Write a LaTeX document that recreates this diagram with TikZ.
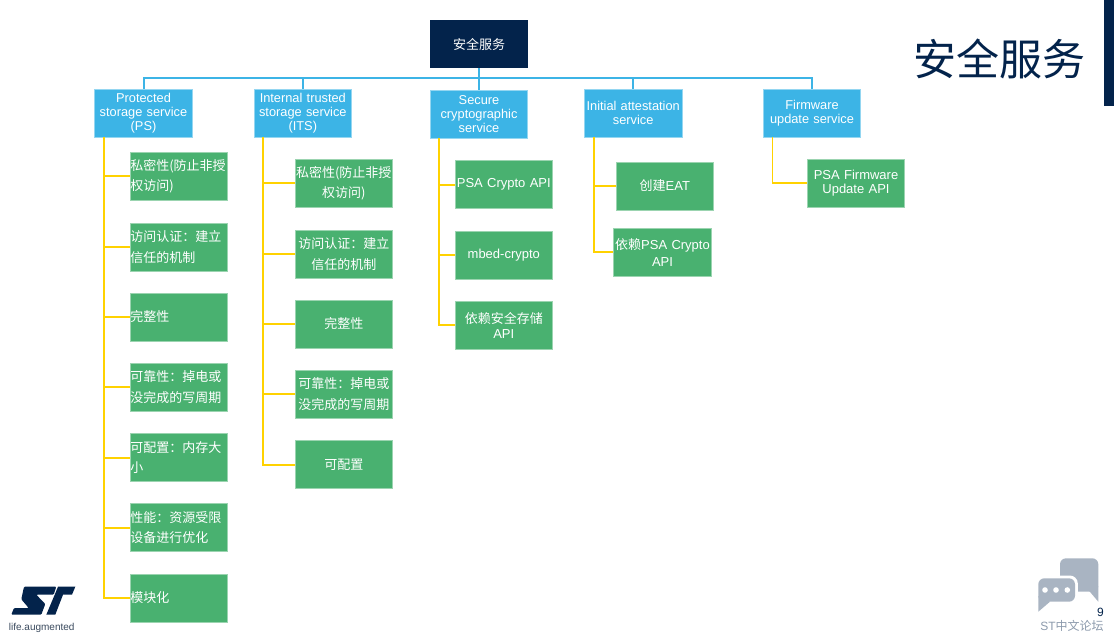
\documentclass[tikz,border=0pt]{standalone}
\usepackage{fontspec}
\setmainfont{Liberation Sans}
\newfontfamily\cjk{Noto Sans CJK SC}
\newcommand\zh[1]{{\cjk #1}}
\definecolor{stnavy}{HTML}{03234B}
\definecolor{stblue}{HTML}{3CB4E6}
\definecolor{stgreen}{HTML}{49B170}
\definecolor{styellow}{HTML}{FFD200}
\definecolor{bubble}{HTML}{A9B4C2}
\definecolor{bubbletext}{HTML}{8D9BAD}
\definecolor{logotext}{HTML}{3A4A5E}
\begin{document}
\begin{tikzpicture}[x=1pt,y=-1pt,
  rootbox/.style={fill=stnavy, text=white, minimum width=98pt, minimum height=48pt, inner sep=0pt, font=\cjk\fontsize{13}{16}\selectfont},
  l1box/.style={fill=stblue, draw=stblue!55!white, line width=0.6pt, text=white, text width=97.5pt, align=center, minimum height=48pt, inner sep=0pt, font=\fontsize{12.8}{13.8}\selectfont},
  leafbox/.style={fill=stgreen, draw=stgreen!55!white, line width=0.6pt, text=white, text width=97.5pt, minimum height=48pt, inner sep=0pt, font=\fontsize{13}{20.5}\selectfont, align=center},
  leafleft/.style={leafbox, align=left},
  busline/.style={draw=stblue, line width=2pt},
  yline/.style={draw=styellow, line width=1.8pt},
]
\useasboundingbox (0,0) rectangle (1114,642);
\fill[white] (0,0) rectangle (1114,642);

% title and side bar
\node[text=stnavy, font=\cjk\fontsize{43}{50}\selectfont, inner sep=0pt] (title) at (999.5,59) {安全服务};
\fill[stnavy] (1104,0) rectangle (1114,106);

% root and level 1
\node[rootbox] (root) at (479,44) {安全服务};
\node[l1box] (ps) at (143.5,113.3) {Protected\\storage service\\(PS)};
\node[l1box] (its) at (302.8,113.3) {Internal trusted\\storage service\\(ITS)};
\node[l1box] (sec) at (479,114) {Secure\\cryptographic\\service};
\node[l1box] (ini) at (633.2,113.3) {Initial attestation\\service};
\node[l1box] (fw) at (812,113.3) {Firmware\\update service};

\coordinate (bus) at (479,78.3);
\draw[busline] (root.south) -- (bus);
\foreach \n in {ps,its,sec,ini,fw}{
  \draw[busline] (bus) -| (\n.north);
}

% PS leaves
\node[leafleft] (ps1) at (179,176.2) {\zh{私密性(防止非授}\\\zh{权访问)}};
\node[leafleft] (ps2) at (179,246.8) {\zh{访问认证：建立}\\\zh{信任的机制}};
\node[leafleft] (ps3) at (179,317) {\zh{完整性}};
\node[leafleft] (ps4) at (179,387) {\zh{可靠性：掉电或}\\\zh{没完成的写周期}};
\node[leafleft] (ps5) at (179,457.7) {\zh{可配置：内存大}\\\zh{小}};
\node[leafleft] (ps6) at (179,527.7) {\zh{性能：资源受限}\\\zh{设备进行优化}};
\node[leafleft] (ps7) at (179,598) {\zh{模块化}};

% ITS leaves
\node[leafbox] (its1) at (343.8,183) {\zh{私密性(防止非授}\\\zh{权访问)}};
\node[leafbox] (its2) at (343.8,254) {\zh{访问认证：建立}\\\zh{信任的机制}};
\node[leafbox] (its3) at (343.8,324) {\zh{完整性}};
\node[leafbox] (its4) at (343.8,394.3) {\zh{可靠性：掉电或}\\\zh{没完成的写周期}};
\node[leafbox] (its5) at (343.8,464.7) {\zh{可配置}};

% Secure crypto leaves
\node[leafbox] (sec1) at (503.8,184.7) {PSA Crypto API};
\node[leafbox] (sec2) at (503.8,254.8) {mbed-crypto};
\node[leafbox, font=\fontsize{13}{15}\selectfont] (sec3) at (503.8,325) {\zh{依赖安全存储}\\API};

% Attestation leaves
\node[leafbox] (ini1) at (664.8,186) {\zh{创建}EAT};
\node[leafbox, font=\fontsize{13}{17}\selectfont] (ini2) at (662.5,252.3) {\zh{依赖}PSA Crypto\\API};

% Firmware leaf
\node[leafbox, font=\fontsize{13}{14.3}\selectfont] (fw1) at (856,183) {PSA Firmware\\Update API};

% yellow connectors
\coordinate (psT) at (104,137.3);
\coordinate (itsT) at (263,137.3);
\coordinate (secT) at (439,138);
\coordinate (iniT) at (594,137.3);
\coordinate (fwT) at (772.4,137.3);
\foreach \n in {1,...,7}{ \draw[yline] (psT) |- (ps\n.west); }
\foreach \n in {1,...,5}{ \draw[yline] (itsT) |- (its\n.west); }
\foreach \n in {1,2,3}{ \draw[yline] (secT) |- (sec\n.west); }
\foreach \n in {1,2}{ \draw[yline] (iniT) |- (ini\n.west); }
\draw[yline] (fwT) |- (fw1.west);

% ST logo (approximation)
\fill[stnavy, rounded corners=1pt] (24,586.7) -- (56.3,586.7) -- (53.7,594.7) -- (36.3,594.7) -- (45.3,604) -- (41.3,614.7) -- (11.3,614.7) -- (14,608) -- (28.7,608) -- (21.3,599.3) -- cycle;
\fill[stnavy] (58,586.7) -- (75.3,586.7) -- (72,594.7) -- (63,594.7) -- (55.3,614.7) -- (46.3,614.7) -- (54.7,594.7) -- cycle;
\node[text=logotext, font=\fontsize{10}{11}\selectfont, inner sep=0pt] (lifetext) at (41.7,628) {life.augmented};

% chat icon
\fill[bubble, rounded corners=6pt] (1060,558.3) rectangle (1098.3,591.7);
\fill[bubble] (1085,586) -- (1098.3,586) -- (1098.3,601.7) -- cycle;
\fill[white, rounded corners=8pt] (1035.5,575.5) rectangle (1077.8,604.5);
\fill[white] (1035.5,598) -- (1035.5,616) -- (1052,604) -- cycle;
\fill[bubble, rounded corners=6pt] (1038.3,578.3) rectangle (1075,601.7);
\fill[bubble] (1038.3,596) -- (1038.3,611.7) -- (1050,601.7) -- cycle;
\foreach \dx in {1045,1056,1067.3}{ \fill[white] (\dx,590) circle (2.8pt); }
\node[text=stnavy, font=\fontsize{12}{13}\selectfont, inner sep=0pt] (pagenum) at (1100.5,612) {9};
\node[text=bubbletext, font=\fontsize{12}{13}\selectfont, inner sep=0pt] (forum) at (1072,625.5) {ST\zh{中文论坛}};
\end{tikzpicture}
\end{document}
